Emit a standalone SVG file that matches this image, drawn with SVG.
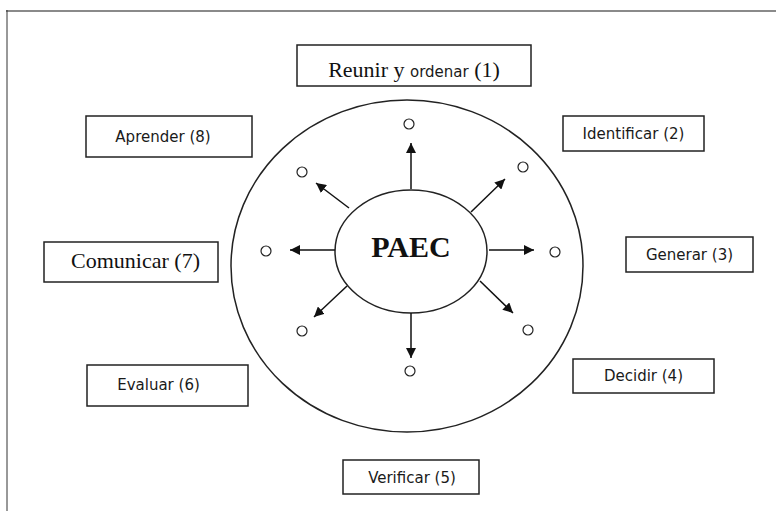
<svg xmlns="http://www.w3.org/2000/svg" width="776" height="511" viewBox="0 0 776 511">
<defs>
<style>
.box{fill:#fff;stroke:#222;stroke-width:1.5}
.sans{font-family:"DejaVu Sans","Liberation Sans",sans-serif;font-size:15px;fill:#1a1a1a}
.serif{font-family:"Liberation Serif","Times New Roman",serif;font-size:22px;fill:#111}
.dot{fill:#fff;stroke:#222;stroke-width:1.2}
.arr{stroke:#111;stroke-width:1.5;fill:none;marker-end:url(#ah)}
</style>
<marker id="ah" viewBox="0 0 10 10" refX="10" refY="5" markerWidth="10" markerHeight="10" markerUnits="userSpaceOnUse" orient="auto">
<path d="M0,0 L10,5 L0,10 Z" fill="#111"/>
</marker>
</defs>
<rect width="776" height="511" fill="#fff"/>
<line x1="6" y1="11" x2="776" y2="11" stroke="#8a8a8a" stroke-width="2"/>
<line x1="7" y1="10" x2="7" y2="511" stroke="#333" stroke-width="1"/>

<g id="outer">
<ellipse cx="407" cy="266" rx="176" ry="166" fill="none" stroke="#222" stroke-width="1.5"/>
</g>
<g id="paec">
<ellipse cx="411" cy="251.5" rx="76" ry="61.5" fill="#fff" stroke="#222" stroke-width="1.5"/>
<text x="411" y="257" text-anchor="middle" font-family="Liberation Serif,Times New Roman,serif" font-weight="bold" font-size="30" fill="#111">PAEC</text>
</g>

<g id="connectors">
<line class="arr" x1="411" y1="189" x2="411" y2="143"/>
<line class="arr" x1="411" y1="313" x2="411" y2="358"/>
<line class="arr" x1="335" y1="250" x2="290" y2="250"/>
<line class="arr" x1="489" y1="250" x2="534" y2="250"/>
<line class="arr" x1="349" y1="208" x2="316" y2="183"/>
<line class="arr" x1="471" y1="212" x2="505" y2="179"/>
<line class="arr" x1="347" y1="286" x2="314" y2="317"/>
<line class="arr" x1="480" y1="281" x2="513" y2="313"/>
</g>

<g id="dots">
<circle class="dot" cx="409" cy="124" r="5"/>
<circle class="dot" cx="523" cy="167" r="5"/>
<circle class="dot" cx="555" cy="252" r="5"/>
<circle class="dot" cx="528" cy="330" r="5"/>
<circle class="dot" cx="410" cy="371" r="5"/>
<circle class="dot" cx="302" cy="331" r="5"/>
<circle class="dot" cx="266" cy="251" r="5"/>
<circle class="dot" cx="302" cy="172" r="5"/>
</g>

<g id="n1">
<rect class="box" x="297" y="45" width="234" height="41"/>
<text x="414" y="77" text-anchor="middle"><tspan class="serif">Reunir y </tspan><tspan class="sans">ordenar</tspan><tspan class="serif"> (1)</tspan></text>
</g>
<g id="n2">
<rect class="box" x="563" y="116" width="141" height="35"/>
<text class="sans" x="633.5" y="139" text-anchor="middle">Identificar (2)</text>
</g>
<g id="n3">
<rect class="box" x="626" y="237" width="127" height="35"/>
<text class="sans" x="689.5" y="260" text-anchor="middle">Generar (3)</text>
</g>
<g id="n4">
<rect class="box" x="573" y="359" width="141" height="34"/>
<text class="sans" x="643.5" y="381" text-anchor="middle">Decidir (4)</text>
</g>
<g id="n5">
<rect class="box" x="343" y="460" width="136" height="34"/>
<text class="sans" x="412" y="483" text-anchor="middle">Verificar (5)</text>
</g>
<g id="n6">
<rect class="box" x="87" y="365" width="161" height="41"/>
<text class="sans" x="158.5" y="390" text-anchor="middle">Evaluar (6)</text>
</g>
<g id="n7">
<rect class="box" x="44" y="242" width="174" height="40"/>
<text class="serif" x="135.5" y="268" text-anchor="middle">Comunicar (7)</text>
</g>
<g id="n8">
<rect class="box" x="86" y="116" width="166" height="41"/>
<text class="sans" x="163" y="142" text-anchor="middle">Aprender (8)</text>
</g>
</svg>
